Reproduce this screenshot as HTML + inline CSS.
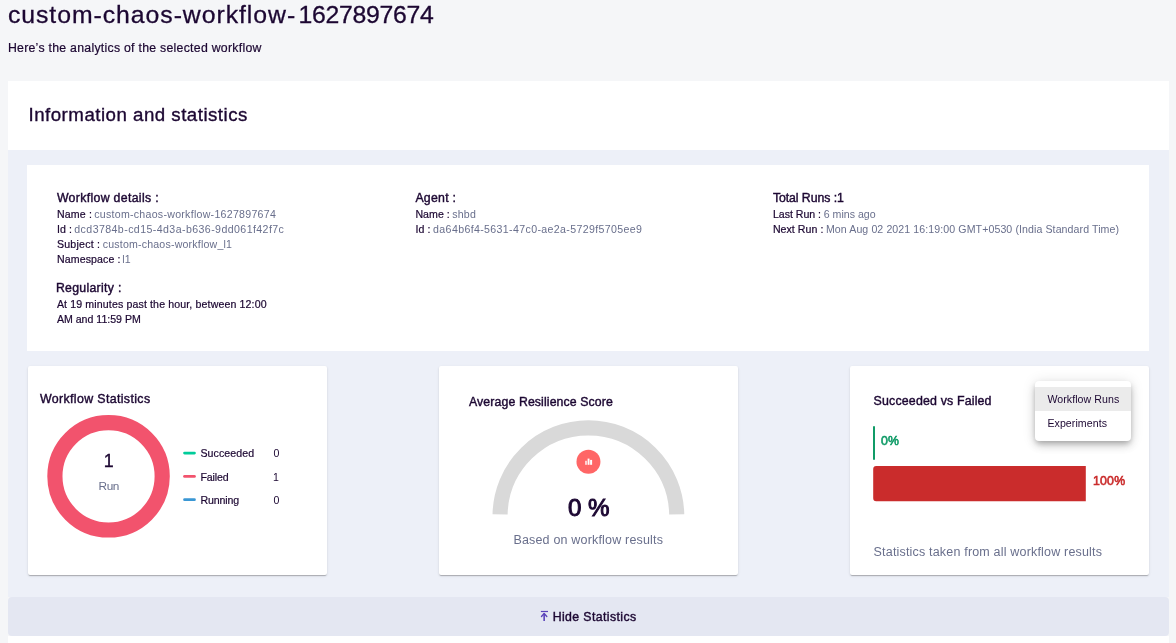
<!DOCTYPE html>
<html lang="en">
<head>
<meta charset="utf-8">
<title>Workflow Analytics</title>
<style>
*{box-sizing:border-box;margin:0;padding:0}
html,body{width:1176px;height:643px;overflow:hidden}
body{background:#F5F6F8;font-family:"Liberation Sans",Arial,sans-serif;color:#1C0732;position:relative}
.t{position:absolute;white-space:nowrap;line-height:1;z-index:5;list-style:none;font-weight:400}
.hint{color:#696F8C;-webkit-text-stroke:0}
p.t{-webkit-text-stroke:.2px currentColor}
.panel-head{position:absolute;left:8px;top:81px;width:1161px;height:69px;background:#fff}
.panel-body{position:absolute;left:8px;top:150px;width:1161px;height:447px;background:#EDF0F8}
.info{position:absolute;left:27.4px;top:164.8px;width:1122.1px;height:186.1px;background:#fff}
.card{position:absolute;top:366px;height:209px;width:299px;background:#fff;border-radius:2px;box-shadow:0 2px 1px -1px rgba(0,0,0,.15),0 1px 1px 0 rgba(0,0,0,.10),0 1px 3px 0 rgba(0,0,0,.10)}
.bar{position:absolute;left:8px;top:597px;width:1161px;height:39px;background:#E4E7F2;border-radius:4px}
.below{position:absolute;left:8px;top:636px;width:1161px;height:7px;background:#fff}
.menu{position:absolute;left:1035px;top:381px;width:96px;height:60px;background:#fff;border-radius:4px;box-shadow:0 3px 5px -1px rgba(0,0,0,.2),0 5px 8px 0 rgba(0,0,0,.14),0 1px 14px 0 rgba(0,0,0,.12);z-index:3}
.menu .sel{position:absolute;left:0;top:6px;width:96px;height:24px;background:#EBEBEB}
.g{position:static;display:block;border:0;background:none;font:inherit;color:inherit;width:auto;height:0;list-style:none}
svg.gfx{position:absolute;left:0;top:0;width:1176px;height:643px;z-index:2;pointer-events:none}
</style>
</head>
<body>

<header>
<h1 class="t" id="title" style="left:7.90px;top:3px;font-size:24.8px;-webkit-text-stroke:.3px #1C0732"><span style="letter-spacing:0.950px;">custom-chaos-workflow-</span><span style="letter-spacing:-0.269px;margin-left:2.29px;">1627897674</span></h1>
<p class="t" id="sub" style="left:7.90px;top:42px;font-size:12.3px;letter-spacing:0.267px;">Here’s the analytics of the selected workflow</p>
</header>
<main>
<div class="panel-head"></div>
<div class="panel-body"></div>
<h2 class="t" id="h2" style="left:28.50px;top:106px;font-size:18.7px;letter-spacing:0.486px;-webkit-text-stroke:.35px #1C0732">Information and statistics</h2>
<section class="g" id="details">
<div class="info"></div>
<div class="g">
<h3 class="t" id="wd" style="left:56.90px;top:192px;font-size:12.3px;letter-spacing:0.329px;-webkit-text-stroke:.4px #1C0732">Workflow details :</h3>
<p class="t" id="wdname" style="left:56.90px;top:209px;font-size:10.6px;"><span style="letter-spacing:0.180px;">Name : </span><span class="hint" style="letter-spacing:0.273px;margin-left:-1.05px;">custom-chaos-workflow-1627897674</span></p>
<p class="t" id="wdid" style="left:56.90px;top:224px;font-size:10.6px;"><span style="letter-spacing:0.141px;">Id : </span><span class="hint" style="letter-spacing:0.418px;margin-left:-0.97px;">dcd3784b-cd15-4d3a-b636-9dd061f42f7c</span></p>
<p class="t" id="wdsub" style="left:56.90px;top:239px;font-size:10.6px;"><span style="letter-spacing:0.228px;">Subject : </span><span class="hint" style="letter-spacing:0.190px;margin-left:-0.64px;">custom-chaos-workflow_l1</span></p>
<p class="t" id="wdns" style="left:56.90px;top:254px;font-size:10.6px;"><span style="letter-spacing:0.123px;">Namespace : </span><span class="hint" style="letter-spacing:0.000px;margin-left:-1.41px;">l1</span></p>
<h3 class="t" id="reg" style="left:55.90px;top:282px;font-size:12.3px;letter-spacing:0.293px;-webkit-text-stroke:.4px #1C0732">Regularity :</h3>
<p class="t" id="reg1" style="left:56.90px;top:299px;font-size:10.6px;letter-spacing:0.130px;">At 19 minutes past the hour, between 12:00</p>
<p class="t" id="reg2" style="left:56.90px;top:314px;font-size:10.6px;letter-spacing:-0.006px;">AM and 11:59 PM</p>
</div>
<div class="g">
<h3 class="t" id="ag" style="left:415.40px;top:192px;font-size:12.3px;letter-spacing:0.258px;-webkit-text-stroke:.4px #1C0732">Agent :</h3>
<p class="t" id="agname" style="left:415.40px;top:209px;font-size:10.6px;"><span style="letter-spacing:0.040px;">Name : </span><span class="hint" style="letter-spacing:0.173px;margin-left:-0.47px;">shbd</span></p>
<p class="t" id="agid" style="left:415.40px;top:224px;font-size:10.6px;"><span style="letter-spacing:0.141px;">Id : </span><span class="hint" style="letter-spacing:0.364px;margin-left:-0.67px;">da64b6f4-5631-47c0-ae2a-5729f5705ee9</span></p>
</div>
<div class="g">
<h3 class="t" id="tr" style="left:772.90px;top:192px;font-size:12.3px;letter-spacing:-0.069px;-webkit-text-stroke:.4px #1C0732">Total Runs :1</h3>
<p class="t" id="trlast" style="left:772.90px;top:209px;font-size:10.6px;"><span style="letter-spacing:-0.016px;">Last Run : </span><span class="hint" style="letter-spacing:0.008px;margin-left:-0.25px;">6 mins ago</span></p>
<p class="t" id="trnext" style="left:772.90px;top:224px;font-size:10.6px;"><span style="letter-spacing:0.044px;">Next Run : </span><span class="hint" style="letter-spacing:0.090px;margin-left:-0.47px;">Mon Aug 02 2021 16:19:00 GMT+0530 (India Standard Time)</span></p>
</div>
</section>
<article class="g" id="workflow-statistics">
<div class="card" style="left:28px"></div>
<svg class="gfx" viewBox="0 0 1176 643" aria-hidden="true">
  <circle cx="108.55" cy="476.35" r="53.65" fill="none" stroke="#F2536D" stroke-width="15.2"/>
  <path d="M184.5 453.1 H194.5" stroke="#00CC9A" stroke-width="2.7" stroke-linecap="round"/>
  <path d="M184.5 476.4 H194.5" stroke="#F2536D" stroke-width="2.7" stroke-linecap="round"/>
  <path d="M184.5 499.7 H194.5" stroke="#3A97D4" stroke-width="2.7" stroke-linecap="round"/>
</svg>
<h4 class="t" id="ws" style="left:39.90px;top:393px;font-size:12.4px;letter-spacing:0.359px;-webkit-text-stroke:.4px #1C0732">Workflow Statistics</h4>
<p class="t" id="dn" style="left:103.70px;top:453px;font-size:17.9px;-webkit-text-stroke:.35px #1C0732">1</p>
<p class="t" id="drun" style="left:98.50px;top:481px;font-size:11.8px;letter-spacing:-0.390px;color:#696F8C;-webkit-text-stroke:0">Run</p>
<span class="t" id="l1" style="left:200.40px;top:448px;font-size:10.6px;letter-spacing:0.085px;-webkit-text-stroke:.2px #1C0732">Succeeded</span>
<span class="t" id="n1" style="left:273.50px;top:448px;font-size:10.6px;">0</span>
<span class="t" id="l2" style="left:200.40px;top:472px;font-size:10.6px;letter-spacing:-0.132px;-webkit-text-stroke:.2px #1C0732">Failed</span>
<span class="t" id="n2" style="left:272.90px;top:472px;font-size:10.6px;">1</span>
<span class="t" id="l3" style="left:200.40px;top:495px;font-size:10.6px;letter-spacing:-0.129px;-webkit-text-stroke:.2px #1C0732">Running</span>
<span class="t" id="n3" style="left:273.50px;top:495px;font-size:10.6px;">0</span>
</article>
<article class="g" id="resilience-score">
<div class="card" style="left:439px"></div>
<svg class="gfx" viewBox="0 0 1176 643" aria-hidden="true">
  <path d="M500.07 514.3 A88.35 88.35 0 0 1 676.73 514.3" fill="none" stroke="#D9D9D9" stroke-width="15.1"/>
  <circle cx="588.45" cy="461.7" r="12" fill="#FF6666"/>
  <rect x="585.3" y="460.8" width="1.4" height="4" fill="#fff"/>
  <rect x="587.6" y="458.6" width="1.9" height="6.2" fill="#fff"/>
  <rect x="590.1" y="459.9" width="2" height="4.9" fill="#fff"/>
</svg>
<h4 class="t" id="ars" style="left:469.00px;top:396px;font-size:12.3px;letter-spacing:0.112px;-webkit-text-stroke:.4px #1C0732">Average Resilience Score</h4>
<p class="t" id="pct" style="left:567.91px;top:496px;font-size:24.2px;-webkit-text-stroke:1px #1C0732">0 %</p>
<p class="t" id="based" style="left:513.40px;top:534px;font-size:12.5px;letter-spacing:0.181px;color:#696F8C;-webkit-text-stroke:0">Based on workflow results</p>
</article>
<article class="g" id="succeeded-vs-failed">
<div class="card" style="left:850px"></div>
<svg class="gfx" viewBox="0 0 1176 643" aria-hidden="true">
  <rect x="873" y="426" width="2" height="34" rx="1" fill="#109B67"/>
  <path d="M876.2 465.9 H1085.8 V501.25 H876.2 A3 3 0 0 1 873.2 498.25 V468.9 A3 3 0 0 1 876.2 465.9 Z" fill="#CA2C2C"/>
</svg>
<h4 class="t" id="svf" style="left:873.60px;top:395px;font-size:12.4px;letter-spacing:0.159px;-webkit-text-stroke:.4px #1C0732">Succeeded vs Failed</h4>
<span class="t" id="p0" style="left:881.00px;top:435px;font-size:12.3px;letter-spacing:0.061px;color:#109B67;-webkit-text-stroke:.6px #109B67">0%</span>
<span class="t" id="p100" style="left:1092.90px;top:475px;font-size:12.3px;letter-spacing:0.261px;color:#CA2C2C;-webkit-text-stroke:.6px #CA2C2C">100%</span>
<p class="t" id="stat" style="left:873.60px;top:546px;font-size:12.5px;letter-spacing:0.182px;color:#696F8C;-webkit-text-stroke:0">Statistics taken from all workflow results</p>
<ul class="g" role="listbox">
<div class="menu"><div class="sel"></div></div>
<li class="t" id="m1" style="left:1047.40px;top:394px;font-size:10.6px;letter-spacing:0.063px;">Workflow Runs</li>
<li class="t" id="m2" style="left:1047.40px;top:418px;font-size:10.6px;letter-spacing:0.072px;">Experiments</li>
</ul>
</article>
<button class="g" type="button">
<div class="bar"></div>
<svg class="gfx" viewBox="0 0 1176 643" aria-hidden="true">
  <rect x="540.9" y="610.9" width="7.1" height="1.2" fill="#5B44BA"/>
  <path d="M541.5 616.5 L544.15 613.5 L546.8 616.5" fill="none" stroke="#5B44BA" stroke-width="1.35" stroke-linecap="round" stroke-linejoin="round"/>
  <path d="M544.15 613.6 V621" fill="none" stroke="#5B44BA" stroke-width="1.6"/>
</svg>
<span class="t" id="hide" style="left:552.70px;top:611px;font-size:12.3px;letter-spacing:0.396px;-webkit-text-stroke:.4px #1C0732">Hide Statistics</span>
</button>
<div class="below"></div>
</main>
</body>
</html>
